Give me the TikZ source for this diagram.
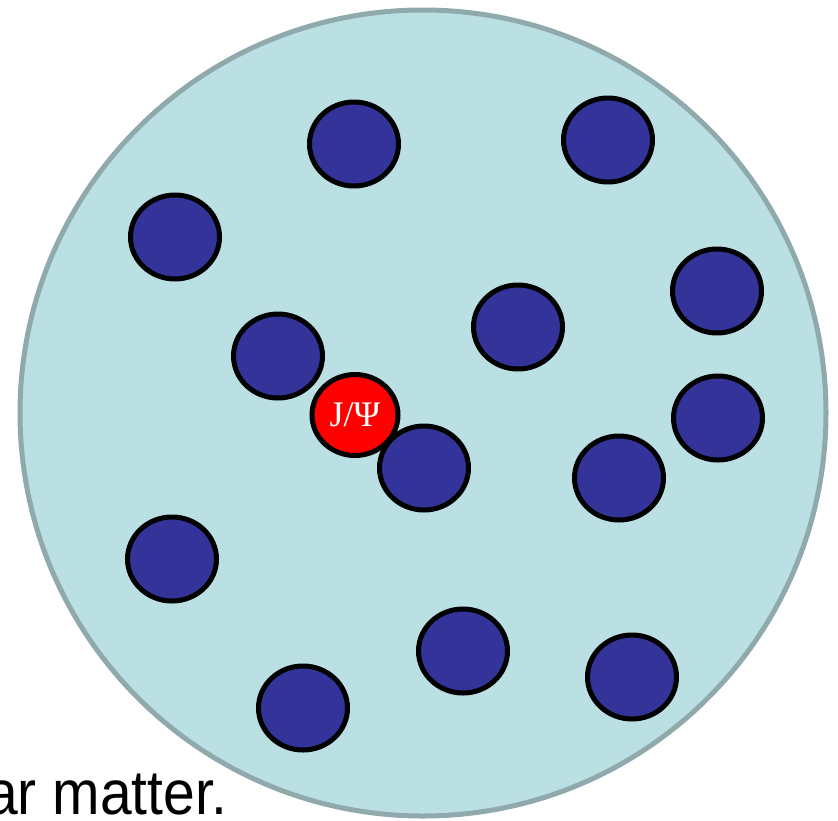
\documentclass[tikz,border=0pt]{standalone}
\usepackage{fontspec}
\setmainfont{Liberation Serif}
\newfontfamily\labelsans{Liberation Sans}
\usetikzlibrary{shapes.geometric}
\definecolor{medium}{HTML}{BAE0E3}
\definecolor{rimcol}{HTML}{8FA9AC}
\definecolor{hadron}{HTML}{333399}
\tikzset{
  blob/.style={ellipse, draw=black, line width=5pt, fill=hadron, inner sep=0pt,
    minimum width=89pt, minimum height=84pt},
  jpsi/.style={ellipse, draw=black, line width=5pt, fill=red, inner sep=0pt,
    minimum width=86pt, minimum height=81pt, text=white,
    font=\fontsize{36}{36}\selectfont},
}
\begin{document}
\begin{tikzpicture}[x=1pt,y=-1pt]
\useasboundingbox (0,0) rectangle (838,820);
\node[anchor=base west, inner sep=0pt, yscale=1.1, font=\labelsans\fontsize{57}{57}\selectfont] (cap) at (-14,814) {ar matter.};
\node[circle, draw=rimcol, line width=5pt, fill=medium, inner sep=0pt, minimum size=806pt] (medium) at (423,413) {};
\node[blob] (h1) at (354,144) {};
\node[blob] (h2) at (608,140) {};
\node[blob] (h3) at (175,237) {};
\node[blob] (h4) at (717,291) {};
\node[blob] (h5) at (518,327) {};
\node[blob] (h6) at (278,356) {};
\node[jpsi] (psi) at (355,415) {J/Ψ};
\node[blob] (h8) at (424,468) {};
\node[blob] (h9) at (718,418) {};
\node[blob] (h10) at (619,478) {};
\node[blob] (h11) at (172,559) {};
\node[blob] (h12) at (463,651) {};
\node[blob] (h13) at (632,677) {};
\node[blob] (h14) at (303,708) {};
\end{tikzpicture}
\end{document}
